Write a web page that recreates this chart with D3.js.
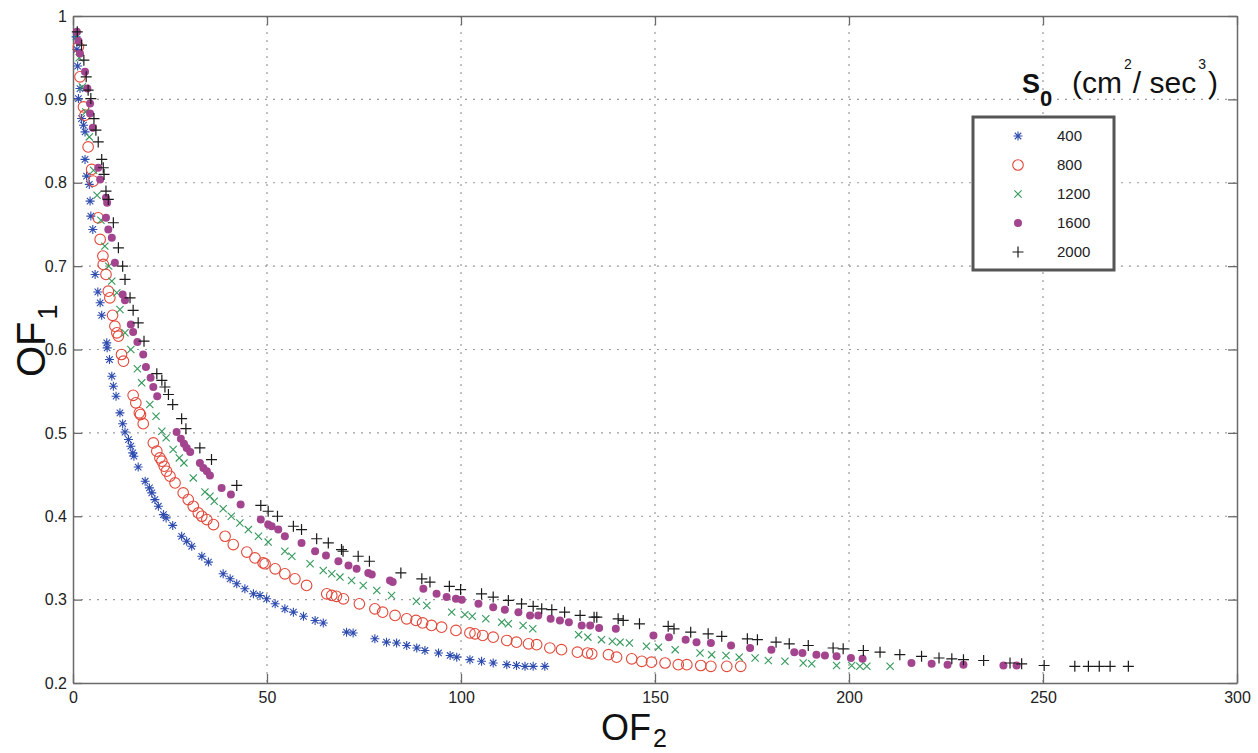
<!DOCTYPE html>
<html>
<head>
<meta charset="utf-8">
<script src="https://cdn.jsdelivr.net/npm/d3@7"></script>
<style>
  body { margin: 0; background: #fff; }
  svg { font-family: Arial, "Liberation Sans", sans-serif; }
</style>
</head>
<body>
<svg id="chart" width="1258" height="753"></svg>
<script>
// [OF2, OF1] pairs, one array per S0 value
const s400 = [[0.8,0.975],[1.0,0.96],[1.2,0.94],[1.4,0.901],[1.8,0.913],[2.2,0.877],[2.7,0.869],[3.1,0.861],[3.1,0.828],[3.5,0.808],[4.2,0.798],[4.4,0.778],[4.6,0.76],[5.1,0.744],[5.7,0.69],[6.4,0.669],[7.0,0.656],[7.4,0.641],[8.7,0.608],[8.8,0.602],[9.4,0.588],[10.0,0.568],[10.4,0.556],[11.1,0.544],[12.1,0.524],[12.8,0.511],[13.4,0.501],[14.3,0.492],[14.9,0.484],[15.4,0.476],[15.7,0.472],[16.8,0.459],[18.6,0.442],[19.7,0.434],[20.3,0.428],[21.1,0.420],[22.0,0.412],[23.3,0.402],[24.0,0.398],[25.7,0.389],[28.0,0.376],[29.3,0.370],[30.6,0.364],[33.2,0.352],[34.9,0.345],[38.7,0.331],[40.5,0.325],[42.2,0.319],[44.3,0.313],[46.5,0.307],[48.2,0.305],[49.9,0.301],[52.1,0.295],[54.6,0.289],[56.8,0.285],[59.4,0.280],[62.4,0.275],[64.5,0.272],[70.5,0.261],[72.2,0.260],[77.8,0.253],[80.8,0.249],[83.4,0.248],[86.0,0.245],[88.6,0.242],[90.7,0.239],[94.2,0.236],[97.2,0.233],[98.9,0.231],[102.3,0.228],[105.3,0.226],[108.3,0.224],[111.8,0.222],[114.3,0.221],[116.5,0.220],[118.6,0.220],[121.6,0.220]];

const s800 = [[1.4,0.963],[1.8,0.927],[2.7,0.891],[3.1,0.881],[3.9,0.843],[4.8,0.816],[5.2,0.802],[6.5,0.758],[7.0,0.732],[7.7,0.712],[7.8,0.702],[8.5,0.69],[9.1,0.670],[9.5,0.662],[10.2,0.641],[10.8,0.628],[11.3,0.620],[11.7,0.616],[12.5,0.594],[13.0,0.586],[15.5,0.545],[16.2,0.536],[17.1,0.524],[17.4,0.522],[18.1,0.511],[20.7,0.488],[21.6,0.478],[22.4,0.470],[22.9,0.466],[23.5,0.460],[24.1,0.454],[25.0,0.448],[26.3,0.440],[28.4,0.428],[29.7,0.420],[31.0,0.412],[32.3,0.404],[33.2,0.400],[34.5,0.396],[36.2,0.390],[39.2,0.376],[41.3,0.366],[44.8,0.357],[46.9,0.350],[49.0,0.344],[49.5,0.343],[52.1,0.337],[54.6,0.331],[57.2,0.325],[60.2,0.317],[65.4,0.307],[66.7,0.305],[67.9,0.304],[69.7,0.301],[73.8,0.295],[77.8,0.289],[79.8,0.285],[83.0,0.281],[86.0,0.277],[88.4,0.275],[90.1,0.272],[92.4,0.269],[95.0,0.267],[98.7,0.263],[102.3,0.260],[103.6,0.259],[105.6,0.257],[108.3,0.255],[111.8,0.251],[114.3,0.249],[117.4,0.247],[119.5,0.246],[122.9,0.242],[125.9,0.240],[130.0,0.237],[132.6,0.236],[133.7,0.235],[138.0,0.234],[140.1,0.231],[144.0,0.229],[146.6,0.226],[149.1,0.225],[152.6,0.224],[156.0,0.222],[158.2,0.222],[161.8,0.221],[164.4,0.220],[168.5,0.220],[172.1,0.220]];

const s1200 = [[1.0,0.975],[1.6,0.95],[2.4,0.915],[3.3,0.885],[4.2,0.855],[5.3,0.815],[6.2,0.785],[7.2,0.755],[8.2,0.724],[9.2,0.70],[10.0,0.682],[11.3,0.668],[12.1,0.648],[13.4,0.620],[14.9,0.600],[16.6,0.577],[17.7,0.560],[19.8,0.534],[21.4,0.520],[22.9,0.502],[24.0,0.494],[25.8,0.480],[27.4,0.470],[28.6,0.464],[31.0,0.446],[34.0,0.429],[35.3,0.424],[36.4,0.418],[38.7,0.409],[40.8,0.400],[43.0,0.392],[45.2,0.384],[47.8,0.376],[50.3,0.369],[54.6,0.358],[56.4,0.352],[61.1,0.343],[64.5,0.335],[66.7,0.331],[68.8,0.327],[71.8,0.323],[74.8,0.317],[78.3,0.311],[82.1,0.305],[88.5,0.298],[91.2,0.293],[97.6,0.285],[101.0,0.282],[102.9,0.280],[106.4,0.277],[110.5,0.273],[112.2,0.271],[116.0,0.269],[118.5,0.265],[130.3,0.258],[132.7,0.255],[136.2,0.252],[139.0,0.250],[141.0,0.249],[143.4,0.248],[147.8,0.244],[150.9,0.243],[155.2,0.240],[161.6,0.236],[164.6,0.234],[168.3,0.233],[171.7,0.231],[175.8,0.230],[179.2,0.227],[183.5,0.226],[188.2,0.224],[190.4,0.223],[196.8,0.221],[200.7,0.221],[202.8,0.220],[204.6,0.220],[210.6,0.220]];

const s1600 = [[1.0,0.981],[1.4,0.97],[1.8,0.955],[3.1,0.933],[3.7,0.913],[4.4,0.895],[4.4,0.883],[5.1,0.866],[6.5,0.818],[7.0,0.804],[8.5,0.782],[8.8,0.776],[8.5,0.758],[9.1,0.744],[10.0,0.734],[10.8,0.704],[12.8,0.666],[13.4,0.659],[14.9,0.630],[15.5,0.621],[16.6,0.609],[18.1,0.594],[18.8,0.579],[20.0,0.566],[20.7,0.555],[21.7,0.544],[26.7,0.501],[27.8,0.493],[28.6,0.487],[29.3,0.482],[30.2,0.477],[32.7,0.464],[33.6,0.458],[34.5,0.454],[35.3,0.449],[38.3,0.434],[40.7,0.426],[43.2,0.414],[48.4,0.396],[50.3,0.390],[51.2,0.388],[52.9,0.384],[54.6,0.376],[58.9,0.368],[62.4,0.358],[65.2,0.353],[68.4,0.346],[71.0,0.341],[73.1,0.337],[76.1,0.332],[77.0,0.330],[81.7,0.323],[82.4,0.321],[90.3,0.313],[93.7,0.307],[96.3,0.303],[98.7,0.301],[100.2,0.300],[104.5,0.295],[108.3,0.291],[111.3,0.288],[114.8,0.285],[117.8,0.281],[119.9,0.281],[123.1,0.277],[125.5,0.275],[127.8,0.273],[131.1,0.269],[133.3,0.269],[135.6,0.266],[139.9,0.265],[149.6,0.257],[153.6,0.255],[157.9,0.252],[160.7,0.249],[164.4,0.248],[169.6,0.245],[174.5,0.242],[180.0,0.240],[185.9,0.237],[188.0,0.236],[191.6,0.234],[193.8,0.233],[196.8,0.232],[200.5,0.230],[203.5,0.229],[216.1,0.224],[221.3,0.223],[225.4,0.222],[229.5,0.222],[239.8,0.221],[243.2,0.221]];

const s2000 = [[1.1,0.981],[2.2,0.965],[2.8,0.947],[3.4,0.927],[3.9,0.911],[4.6,0.901],[5.4,0.877],[5.9,0.863],[6.5,0.849],[7.4,0.828],[7.8,0.818],[8.0,0.810],[8.5,0.790],[9.1,0.780],[10.4,0.752],[11.7,0.722],[12.8,0.700],[13.4,0.684],[14.7,0.662],[15.5,0.647],[16.8,0.632],[18.3,0.610],[21.6,0.571],[22.9,0.563],[23.7,0.555],[24.6,0.546],[25.7,0.534],[28.0,0.517],[29.1,0.505],[32.7,0.482],[35.7,0.468],[42.2,0.437],[48.4,0.413],[50.3,0.406],[52.7,0.400],[56.8,0.388],[58.9,0.384],[62.8,0.373],[65.8,0.368],[69.2,0.360],[69.6,0.358],[73.5,0.352],[76.4,0.346],[84.5,0.332],[89.9,0.325],[92.0,0.321],[97.0,0.316],[99.9,0.312],[105.3,0.307],[108.3,0.303],[112.2,0.299],[115.6,0.295],[118.6,0.292],[120.8,0.289],[123.4,0.288],[126.7,0.285],[130.7,0.281],[134.3,0.279],[135.0,0.279],[140.5,0.277],[141.8,0.275],[146.0,0.271],[153.4,0.268],[154.9,0.265],[159.2,0.261],[163.7,0.259],[167.2,0.256],[173.8,0.253],[176.4,0.252],[181.2,0.249],[184.6,0.247],[189.5,0.245],[195.9,0.242],[198.5,0.241],[203.7,0.239],[208.0,0.237],[213.1,0.234],[218.7,0.232],[223.2,0.230],[226.5,0.229],[229.5,0.228],[234.7,0.227],[241.5,0.224],[244.5,0.223],[250.3,0.221],[258.2,0.220],[261.7,0.220],[264.5,0.220],[267.3,0.220],[272.0,0.220]];

const seriesLabels = ['400', '800', '1200', '1600', '2000'];
const seriesData = [s400, s800, s1200, s1600, s2000];
const xTicks = [0, 50, 100, 150, 200, 250, 300];
const yTicks = [0.2, 0.3, 0.4, 0.5, 0.6, 0.7, 0.8, 0.9, 1];

const margin = { left: 73, top: 16, right: 1237, bottom: 683 };
const svg = d3.select('#chart');

const x = d3.scaleLinear().domain([0, 300]).range([margin.left, margin.right]);
const y = d3.scaleLinear().domain([0.2, 1]).range([margin.bottom, margin.top]);

// marker styles, matlab-ish
const markers = [
  { kind: 'asterisk', color: '#2e4cae' },
  { kind: 'circle', color: '#e2483a' },
  { kind: 'times', color: '#33985a' },
  { kind: 'dot', color: '#a3448f' },
  { kind: 'plus', color: '#1a1a1a' },
];

function drawMarker(g, kind, color) {
  if (kind === 'asterisk') {
    const r = 4.5, d = r * 0.72;
    g.append('path')
      .attr('d', `M${-r},0H${r}M0,${-r}V${r}M${-d},${-d}L${d},${d}M${-d},${d}L${d},${-d}`)
      .attr('stroke', color).attr('stroke-width', 1.1).attr('fill', 'none');
  } else if (kind === 'circle') {
    g.append('circle').attr('r', 5.3)
      .attr('stroke', color).attr('stroke-width', 1.1).attr('fill', 'none');
  } else if (kind === 'times') {
    const r = 3.6;
    g.append('path')
      .attr('d', `M${-r},${-r}L${r},${r}M${-r},${r}L${r},${-r}`)
      .attr('stroke', color).attr('stroke-width', 1.1).attr('fill', 'none');
  } else if (kind === 'dot') {
    g.append('circle').attr('r', 4).attr('fill', color);
  } else {
    const r = 5.5;
    g.append('path')
      .attr('d', `M${-r},0H${r}M0,${-r}V${r}`)
      .attr('stroke', color).attr('stroke-width', 1.2).attr('fill', 'none');
  }
}

// grid
const grid = svg.append('g').attr('stroke', '#9a9a9a').attr('stroke-width', 1.2).attr('stroke-dasharray', '2,6');
grid.selectAll('.vg').data(xTicks.slice(1, -1)).enter().append('line')
  .attr('x1', d => x(d)).attr('x2', d => x(d))
  .attr('y1', margin.top).attr('y2', margin.bottom);
grid.selectAll('.hg').data(yTicks.slice(1, -1)).enter().append('line')
  .attr('y1', d => y(d)).attr('y2', d => y(d))
  .attr('x1', margin.left).attr('x2', margin.right);

// axes with inward ticks on all four sides
const tickLen = 9;
const axisStyle = sel => {
  sel.selectAll('.domain').attr('stroke', '#6a6a6a').attr('stroke-width', 1.5);
  sel.selectAll('.tick line').attr('stroke', '#6a6a6a').attr('stroke-width', 1.3);
  sel.selectAll('.tick text').attr('fill', '#222').style('font-size', '16px')
    .style('font-family', 'Arial, "Liberation Sans", sans-serif');
};

svg.append('g').attr('transform', `translate(0,${margin.bottom})`)
  .call(d3.axisBottom(x).tickValues(xTicks).tickSizeInner(-tickLen).tickSizeOuter(0).tickPadding(9).tickFormat(d3.format('d')))
  .call(axisStyle);
svg.append('g').attr('transform', `translate(${margin.left},0)`)
  .call(d3.axisLeft(y).tickValues(yTicks).tickSizeInner(-tickLen).tickSizeOuter(0).tickPadding(6).tickFormat(d => d === 1 ? '1' : d3.format('.1f')(d)))
  .call(axisStyle);
svg.append('g').attr('transform', `translate(0,${margin.top})`)
  .call(d3.axisTop(x).tickValues(xTicks).tickSizeInner(-tickLen).tickSizeOuter(0).tickFormat(''))
  .call(axisStyle);
svg.append('g').attr('transform', `translate(${margin.right},0)`)
  .call(d3.axisRight(y).tickValues(yTicks).tickSizeInner(-tickLen).tickSizeOuter(0).tickFormat(''))
  .call(axisStyle);

// points
seriesData.forEach((data, i) => {
  const m = markers[i];
  const g = svg.append('g').attr('class', 'series-' + seriesLabels[i]);
  g.selectAll('g').data(data).enter().append('g')
    .attr('transform', d => `translate(${x(d[0])},${y(d[1])})`)
    .each(function () { drawMarker(d3.select(this), m.kind, m.color); });
});

// axis labels
const xl = svg.append('text').attr('x', 601).attr('y', 740)
  .attr('fill', '#111').style('font-size', '36px');
xl.append('tspan').text('OF');
xl.append('tspan').attr('dy', 7).attr('dx', 2).style('font-size', '25px').text('2');

const yl = svg.append('text').attr('transform', 'translate(45,377) rotate(-90)')
  .attr('fill', '#111').style('font-size', '40px');
yl.append('tspan').text('OF');
yl.append('tspan').attr('dy', 12).attr('dx', 2).style('font-size', '27px').text('1');

// legend title
const tg = svg.append('g').attr('fill', '#111');
tg.append('text').attr('x', 1022).attr('y', 93).style('font-size', '27px').style('font-weight', 'bold').text('S');
tg.append('text').attr('x', 1040).attr('y', 106).style('font-size', '22px').style('font-weight', 'bold').text('0');
const unit = tg.append('text').attr('x', 1072).attr('y', 93).style('font-size', '30px');
unit.append('tspan').text('(cm');
unit.append('tspan').attr('dy', -24).attr('dx', 2).style('font-size', '14px').text('2');
unit.append('tspan').attr('dy', 24).attr('dx', 1).text('/ sec');
unit.append('tspan').attr('dy', -24).attr('dx', 2).style('font-size', '14px').text('3');
unit.append('tspan').attr('dy', 24).attr('dx', 2).text(')');

// legend box
svg.append('rect').attr('x', 973).attr('y', 117).attr('width', 141).attr('height', 153)
  .attr('fill', '#fff').attr('stroke', '#555').attr('stroke-width', 3);
seriesLabels.forEach((label, i) => {
  const cy = 136 + i * 29;
  const g = svg.append('g').attr('transform', `translate(1018,${cy})`);
  drawMarker(g, markers[i].kind, markers[i].color);
  svg.append('text').attr('x', 1057).attr('y', cy + 5)
    .attr('fill', '#222').style('font-size', '15px').text(label);
});
</script>
</body>
</html>
